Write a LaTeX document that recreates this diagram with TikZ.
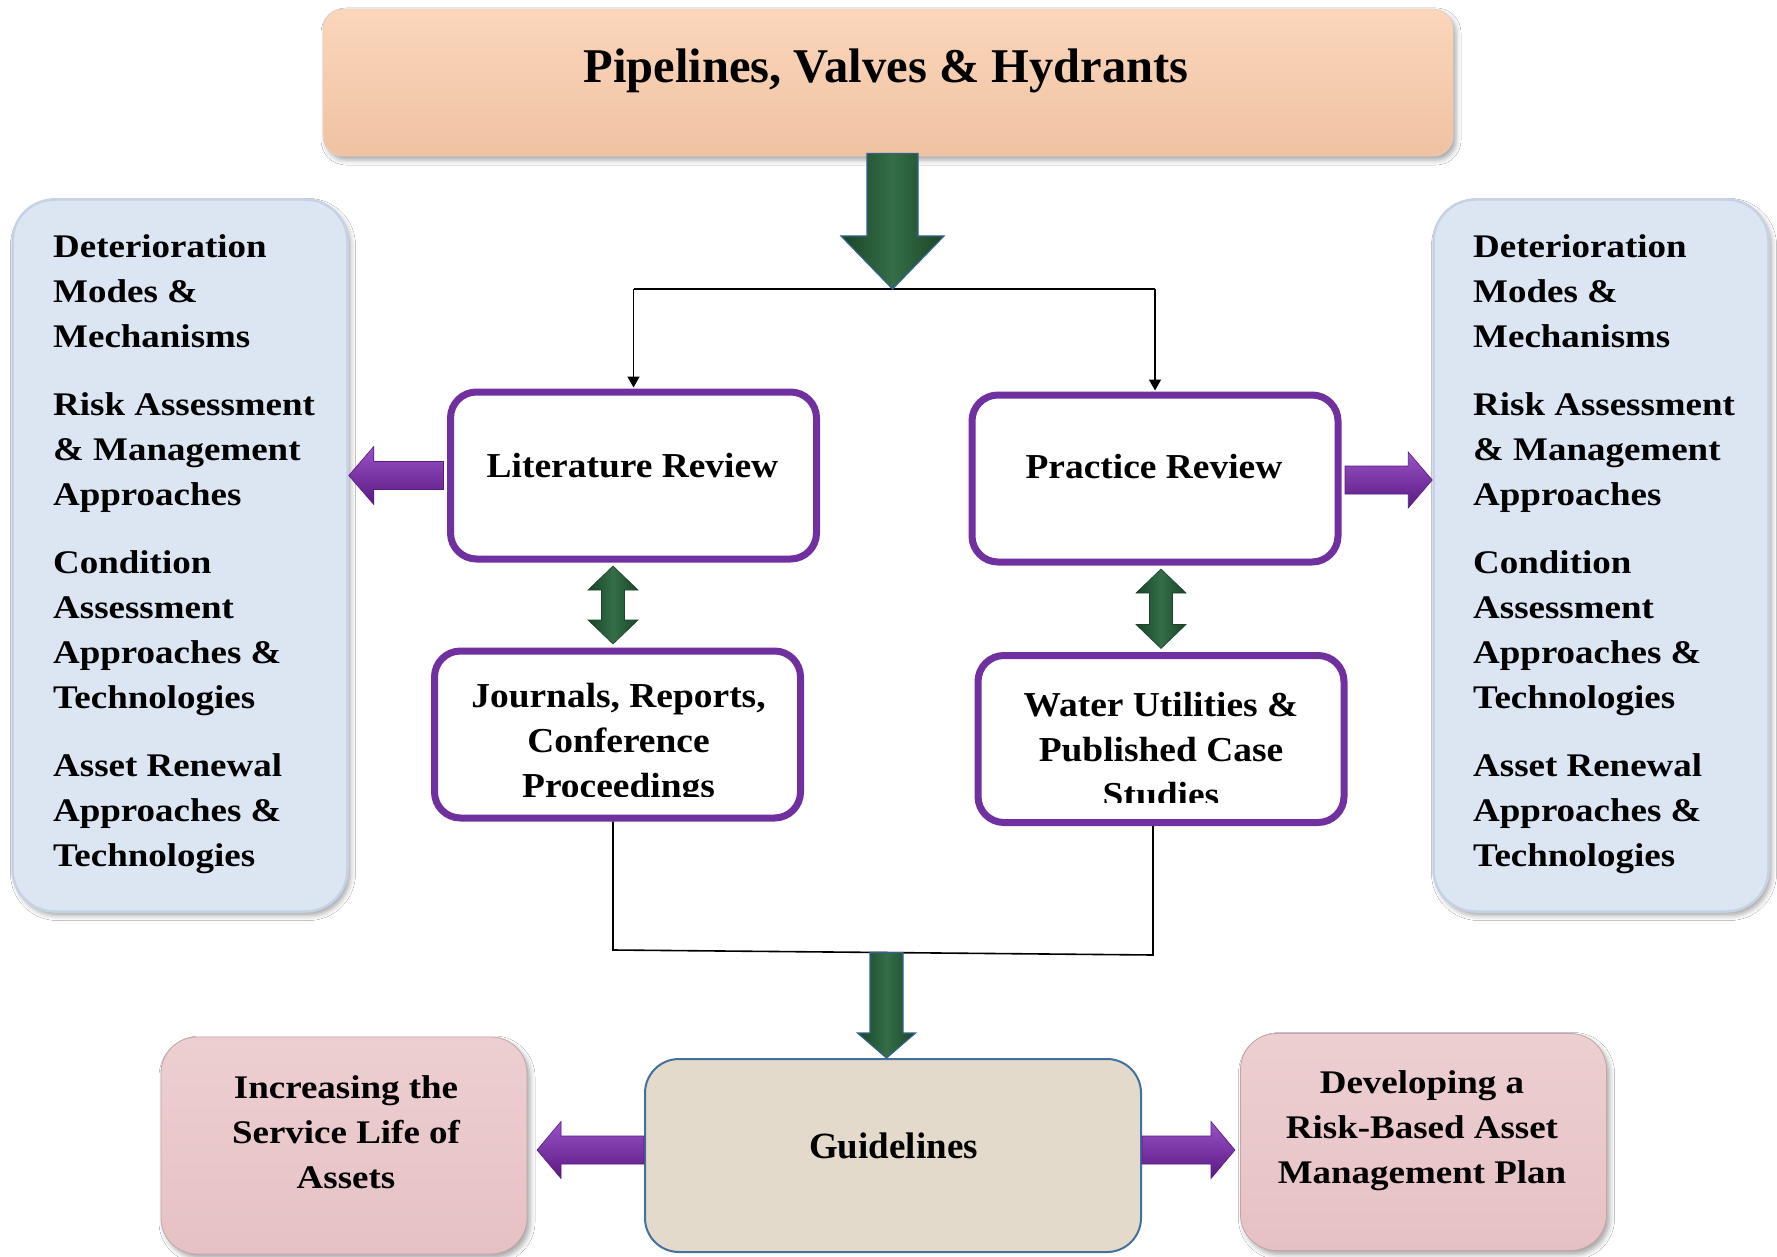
\documentclass[tikz,border=0pt]{standalone}
\usepackage{fontspec}
\setmainfont{Liberation Serif}
\newfontfamily\panelfont[FakeStretch=1.12]{Liberation Serif}
\newfontfamily\reviewfont[FakeStretch=1.07]{Liberation Serif}
\usetikzlibrary{calc,shadows,shadows.blur,arrows.meta}

\definecolor{peachtop}{HTML}{FBD6BB}
\definecolor{peachbot}{HTML}{EFC2A2}
\definecolor{panelblue}{HTML}{DCE6F2}
\definecolor{paneledge}{HTML}{C4D2E3}
\definecolor{boxpurple}{HTML}{7030A0}
\definecolor{purpledark}{HTML}{5A1A82}
\definecolor{purplelight}{HTML}{9A52C6}
\definecolor{greendark}{HTML}{1B4428}
\definecolor{greenlight}{HTML}{346E47}
\definecolor{greenrim}{HTML}{34628E}
\definecolor{sandfill}{HTML}{E3DACB}
\definecolor{sandedge}{HTML}{41719C}
\definecolor{pinkfill}{HTML}{E6C1C4}
\definecolor{pinktop}{HTML}{EDCFD1}

% block arrow pointing down: style, start, tip, half shaft, half head, head length
\newcommand{\fatdown}[6]{%
  \path[#1] let \p1=#2, \p2=#3 in
    ({\x1-#4},\y1) -- ({\x1+#4},\y1) -- ({\x1+#4},{\y2+#6}) -- ({\x1+#5},{\y2+#6})
    -- (\x1,\y2) -- ({\x1-#5},{\y2+#6}) -- ({\x1-#4},{\y2+#6}) -- cycle;}
% block arrow with heads at both ends, upper tip first
\newcommand{\fatupdown}[6]{%
  \path[#1] let \p1=#2, \p2=#3 in
    (\x1,\y1) -- ({\x1+#5},{\y1-#6}) -- ({\x1+#4},{\y1-#6}) -- ({\x1+#4},{\y2+#6})
    -- ({\x1+#5},{\y2+#6}) -- (\x1,\y2) -- ({\x1-#5},{\y2+#6}) -- ({\x1-#4},{\y2+#6})
    -- ({\x1-#4},{\y1-#6}) -- ({\x1-#5},{\y1-#6}) -- cycle;}
% horizontal block arrow from start to tip
\newcommand{\fatside}[6]{%
  \path[#1] let \p1=#2, \p2=#3, \n1={sign(\x2-\x1)} in
    (\x1,{\y1-#4}) -- (\x1,{\y1+#4}) -- ({\x2-(\n1)*#6},{\y1+#4}) -- ({\x2-(\n1)*#6},{\y1+#5})
    -- (\x2,\y1) -- ({\x2-(\n1)*#6},{\y1-#5}) -- ({\x2-(\n1)*#6},{\y1-#4}) -- cycle;}

\tikzset{
  softshadow/.style={blur shadow={shadow xshift=3pt, shadow yshift=-4pt, shadow blur radius=5pt, shadow opacity=35}},
  titlebox/.style={rounded corners=20pt, top color=peachtop, bottom color=peachbot,
    draw=peachbot!90!black!60, line width=0.8pt, minimum width=1130pt, minimum height=147pt, softshadow},
  panel/.style={rounded corners=42pt, fill=panelblue, draw=paneledge, line width=2.5pt,
    minimum width=335pt, minimum height=712pt, inner sep=0pt, softshadow},
  paneltext/.style={anchor=base west, align=left, inner sep=0pt,
    font=\panelfont\bfseries\fontsize{33}{45}\selectfont},
  reviewbox/.style={rounded corners=26pt, draw=boxpurple, line width=7pt, fill=white,
    minimum width=366pt, minimum height=167pt},
  reviewtext/.style={anchor=base, align=center, inner sep=0pt,
    font=\reviewfont\bfseries\fontsize{35}{45}\selectfont},
  sandbox/.style={rounded corners=34pt, fill=sandfill, draw=sandedge, line width=2pt,
    minimum width=496pt, minimum height=193pt},
  pinkbox/.style={rounded corners=36pt, top color=pinktop, bottom color=pinkfill,
    draw=pinkfill!85!black, line width=0.8pt, minimum width=366pt, minimum height=217pt, softshadow},
  goaltext/.style={anchor=base, align=center, inner sep=0pt,
    font=\panelfont\bfseries\fontsize{33}{45}\selectfont},
  link/.style={draw=black, line width=1.6pt},
  linkarrow/.style={link, -{Triangle[length=11pt, width=12pt]}},
  greenarrow/.style={left color=greendark, right color=greendark, middle color=greenlight,
    draw=greenrim, line width=1.2pt},
  greenpair/.style={left color=greendark, right color=greendark, middle color=greenlight,
    draw=greendark, line width=0.6pt},
  purplearrow/.style={top color=purplelight, bottom color=purpledark, draw=purpledark, line width=0.6pt},
}

\begin{document}
\begin{tikzpicture}[x=1pt, y=-1pt]
  \useasboundingbox (0,0) rectangle (1777,1257);
  \fill[white] (0,0) rectangle (1777,1257);

  % heading
  \node[titlebox] (top) at (888,82.5) {};
  \node[anchor=base, inner sep=0pt, font=\bfseries\fontsize{48.5}{52}\selectfont] (toptext)
    at (886,83) {Pipelines, Valves \& Hydrants};

  % side panels (multi-line text sits on the baseline of its last line)
  \node[panel] (lpanel) at (180,555.5) {};
  \node[panel] (rpanel) at (1601,555.5) {};
  \node[paneltext] (ltext) at (53,866) {Deterioration\\Modes \&\\Mechanisms\\[23pt]Risk Assessment\\\& Management\\Approaches\\[23pt]Condition\\Assessment\\Approaches \&\\Technologies\\[23pt]Asset Renewal\\Approaches \&\\Technologies};
  \node[paneltext] (rtext) at (1473,866) {Deterioration\\Modes \&\\Mechanisms\\[23pt]Risk Assessment\\\& Management\\Approaches\\[23pt]Condition\\Assessment\\Approaches \&\\Technologies\\[23pt]Asset Renewal\\Approaches \&\\Technologies};

  % review boxes
  \node[reviewbox] (lit) at (633.5,475.5) {};
  \node[reviewbox] (prac) at (1155,478.5) {};
  \node[reviewbox] (jour) at (617.5,734.5) {};
  \node[reviewbox] (wat) at (1161,739) {};
  \node[reviewtext] (littext) at (632.5,477) {Literature Review};
  \node[reviewtext] (practext) at (1154,478) {Practice Review};
  \begin{scope}
    \clip ($(jour.north west)+(5,5)$) rectangle ($(jour.south east)+(-5,-25.5)$);
    \node[reviewtext] (jourtext) at (618.5,797) {Journals, Reports,\\Conference\\Proceedings};
  \end{scope}
  \begin{scope}
    \clip ($(wat.north west)+(5,5)$) rectangle ($(wat.south east)+(-5,-24)$);
    \node[reviewtext] (wattext) at (1161,806) {Water Utilities \&\\Published Case\\Studies};
  \end{scope}

  % outcome boxes
  \node[sandbox] (guide) at (893,1155.5) {};
  \node[anchor=base, inner sep=0pt, font=\bfseries\fontsize{37}{40}\selectfont] (guidetext)
    at (893.5,1158) {Guidelines};
  \node[pinkbox] (incr) at (344,1145.5) {};
  \node[pinkbox] (devp) at (1423.5,1142) {};
  \node[goaltext] (incrtext) at (346,1188) {Increasing the\\Service Life of\\Assets};
  \node[goaltext] (devptext) at (1422,1183) {Developing a\\Risk-Based Asset\\Management Plan};

  % thin connectors
  \coordinate (split) at (892.5,289);
  \draw[link] (lit.north |- split) -- (prac.north |- split);
  \draw[linkarrow] (lit.north |- split) -- ([yshift=1pt]lit.north);
  \draw[linkarrow] (prac.north |- split) -- ([yshift=1pt]prac.north);

  \coordinate (jdrop) at (613,950);
  \coordinate (wdrop) at (1153,955);
  \coordinate (merge) at (886.5,952.5);
  \draw[link] (jour.south -| jdrop) -- (jdrop) -- (wdrop) -- (wat.south -| wdrop);

  % block arrows
  \fatdown{greenarrow}{($(top.south -| split)+(0,-3)$)}{(split)}{25.5pt}{51.5pt}{53pt}
  \fatdown{greenarrow}{(merge)}{(guide.north -| merge)}{16.5pt}{29pt}{25pt}
  \fatupdown{greenpair}{($(lit.south -| jdrop)+(0,3.5)$)}{($(jour.north -| jdrop)+(0,-3.5)$)}{11.5pt}{25pt}{24pt}
  \fatupdown{greenpair}{($(prac.south -| wat.north)+(0,3.5)$)}{($(wat.north)+(0,-3.5)$)}{11.5pt}{25pt}{24pt}

  \fatside{purplearrow}{($(lit.west)+(-3.5,0)$)}{(lpanel.east |- lit.west)}{14pt}{29pt}{25pt}
  \fatside{purplearrow}{($(prac.east)+(3.5,1.5)$)}{($(rpanel.west |- prac.east)+(0,1.5)$)}{14pt}{28pt}{24pt}
  \coordinate (gltip) at (537,1150);
  \coordinate (grtip) at (1235,1150);
  \fatside{purplearrow}{(guide.west |- gltip)}{(gltip)}{14pt}{28.5pt}{24pt}
  \fatside{purplearrow}{(guide.east |- grtip)}{(grtip)}{14pt}{28.5pt}{24pt}
\end{tikzpicture}
\end{document}
